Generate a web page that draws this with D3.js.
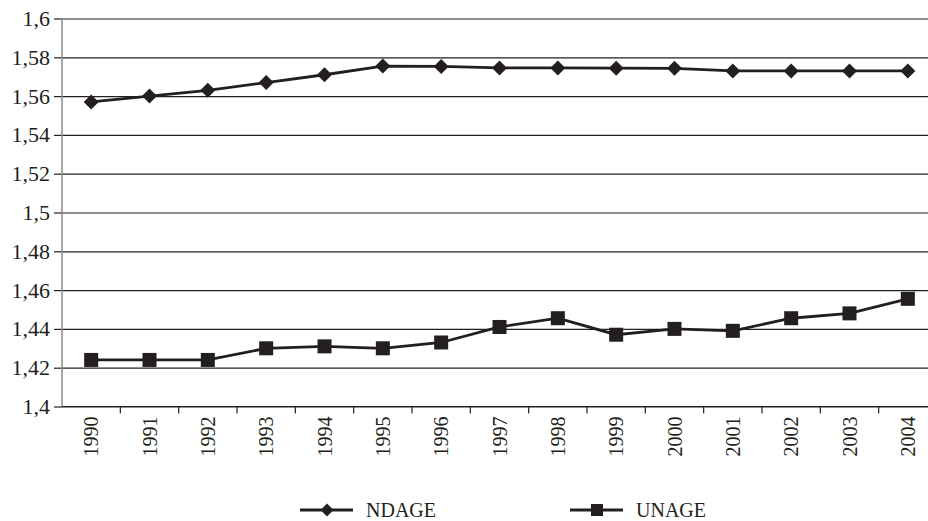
<!DOCTYPE html>
<html>
<head>
<meta charset="utf-8">
<script src="https://cdn.jsdelivr.net/npm/d3@7"></script>
<style>
  html, body { margin: 0; padding: 0; background: #fff; }
  svg { display: block; }
  svg text { font-family: "Liberation Serif", "DejaVu Serif", "Noto Serif", serif !important; }
</style>
</head>
<body>
<svg id="chart" width="928" height="521"></svg>
<script>
// Years on the category axis
const years = ["1990","1991","1992","1993","1994","1995","1996","1997","1998","1999","2000","2001","2002","2003","2004"];
// Series values
const ndage = [1.557, 1.560, 1.563, 1.567, 1.571, 1.5755, 1.5753, 1.5745, 1.5745, 1.5744, 1.5743, 1.573, 1.573, 1.573, 1.573];
const unage = [1.424, 1.424, 1.424, 1.430, 1.431, 1.430, 1.433, 1.441, 1.4455, 1.437, 1.440, 1.439, 1.4455, 1.448, 1.4555];
// Value-axis ticks and their labels
const yTicks = [1.4, 1.42, 1.44, 1.46, 1.48, 1.5, 1.52, 1.54, 1.56, 1.58, 1.6];
const yTickLabels = ["1,4", "1,42", "1,44", "1,46", "1,48", "1,5", "1,52", "1,54", "1,56", "1,58", "1,6"];
const seriesNames = ["NDAGE", "UNAGE"];

const ink = "#231f20";
const svg = d3.select("#chart");

const x = d3.scaleBand().domain(years).range([62, 937]);
const y = d3.scaleLinear().domain([1.4, 1.6]).range([406.5, 18.5]);

// Horizontal gridlines with short ticks to the left of the axis
const yAxis = d3.axisLeft(y)
  .tickValues(yTicks)
  .tickFormat((d, i) => yTickLabels[i])
  .tickSize(8)
  .tickPadding(4);
const gy = svg.append("g").attr("transform", "translate(62,0)").call(yAxis);
gy.attr("font-family", null);
gy.select(".domain").remove();
gy.selectAll(".tick line").attr("stroke", ink).attr("stroke-width", 1.2);
gy.selectAll(".tick").append("line")
  .attr("x1", 0).attr("x2", 900)
  .attr("stroke", ink).attr("stroke-width", 1.2);
gy.selectAll(".tick text").attr("font-size", 22).attr("fill", ink);

// Vertical value axis line
svg.append("line")
  .attr("x1", 62).attr("x2", 62)
  .attr("y1", y(1.6)).attr("y2", y(1.4))
  .attr("stroke", "#8a8a8a").attr("stroke-width", 1.5);

// Category axis: ticks at band boundaries, rotated year labels
const gx = svg.append("g").attr("transform", `translate(0,${y(1.4)})`);
gx.append("line").attr("x1", 62).attr("x2", 937).attr("stroke", ink).attr("stroke-width", 1.2);
gx.selectAll("line.tk").data(years).join("line")
  .attr("class", "tk")
  .attr("x1", d => x(d) + x.bandwidth()).attr("x2", d => x(d) + x.bandwidth())
  .attr("y1", 0).attr("y2", 7)
  .attr("stroke", ink).attr("stroke-width", 1.2);
gx.selectAll("text").data(years).join("text")
  .attr("transform", d => `translate(${x(d) + x.bandwidth() / 2 + 7},10) rotate(-90)`)
  .attr("text-anchor", "end")
  .attr("font-size", 20)
  .attr("fill", ink)
  .text(d => d);

const cx = (d, i) => x(years[i]) + x.bandwidth() / 2;
const line = d3.line().x(cx).y(d => y(d));

// NDAGE series: line with diamond markers
svg.append("path").datum(ndage)
  .attr("d", line).attr("fill", "none")
  .attr("stroke", ink).attr("stroke-width", 2.8);
const diamond = s => `M0,${-s}L${s},0L0,${s}L${-s},0Z`;
svg.selectAll("path.nd").data(ndage).join("path")
  .attr("class", "nd")
  .attr("d", diamond(7.5))
  .attr("transform", (d, i) => `translate(${cx(d, i)},${y(d)})`)
  .attr("fill", ink);

// UNAGE series: line with square markers
svg.append("path").datum(unage)
  .attr("d", line).attr("fill", "none")
  .attr("stroke", ink).attr("stroke-width", 2.8);
svg.selectAll("rect.un").data(unage).join("rect")
  .attr("class", "un")
  .attr("x", (d, i) => cx(d, i) - 7).attr("y", d => y(d) - 7)
  .attr("width", 14).attr("height", 14)
  .attr("fill", ink);

// Legend
const legend = svg.append("g").attr("transform", "translate(0,510)");
const items = [
  { name: seriesNames[0], x0: 300, marker: "diamond" },
  { name: seriesNames[1], x0: 570, marker: "square" }
];
items.forEach(it => {
  const g = legend.append("g").attr("transform", `translate(${it.x0},0)`);
  g.append("line").attr("x1", 0).attr("x2", 53).attr("stroke", ink).attr("stroke-width", 2.8);
  if (it.marker === "diamond") {
    g.append("path").attr("d", diamond(6.5)).attr("transform", "translate(27,0)").attr("fill", ink);
  } else {
    g.append("rect").attr("x", 21).attr("y", -6).attr("width", 12).attr("height", 12).attr("fill", ink);
  }
  g.append("text").attr("x", 66).attr("y", 7).attr("font-size", 20).attr("fill", ink).text(it.name);
});
</script>
</body>
</html>
